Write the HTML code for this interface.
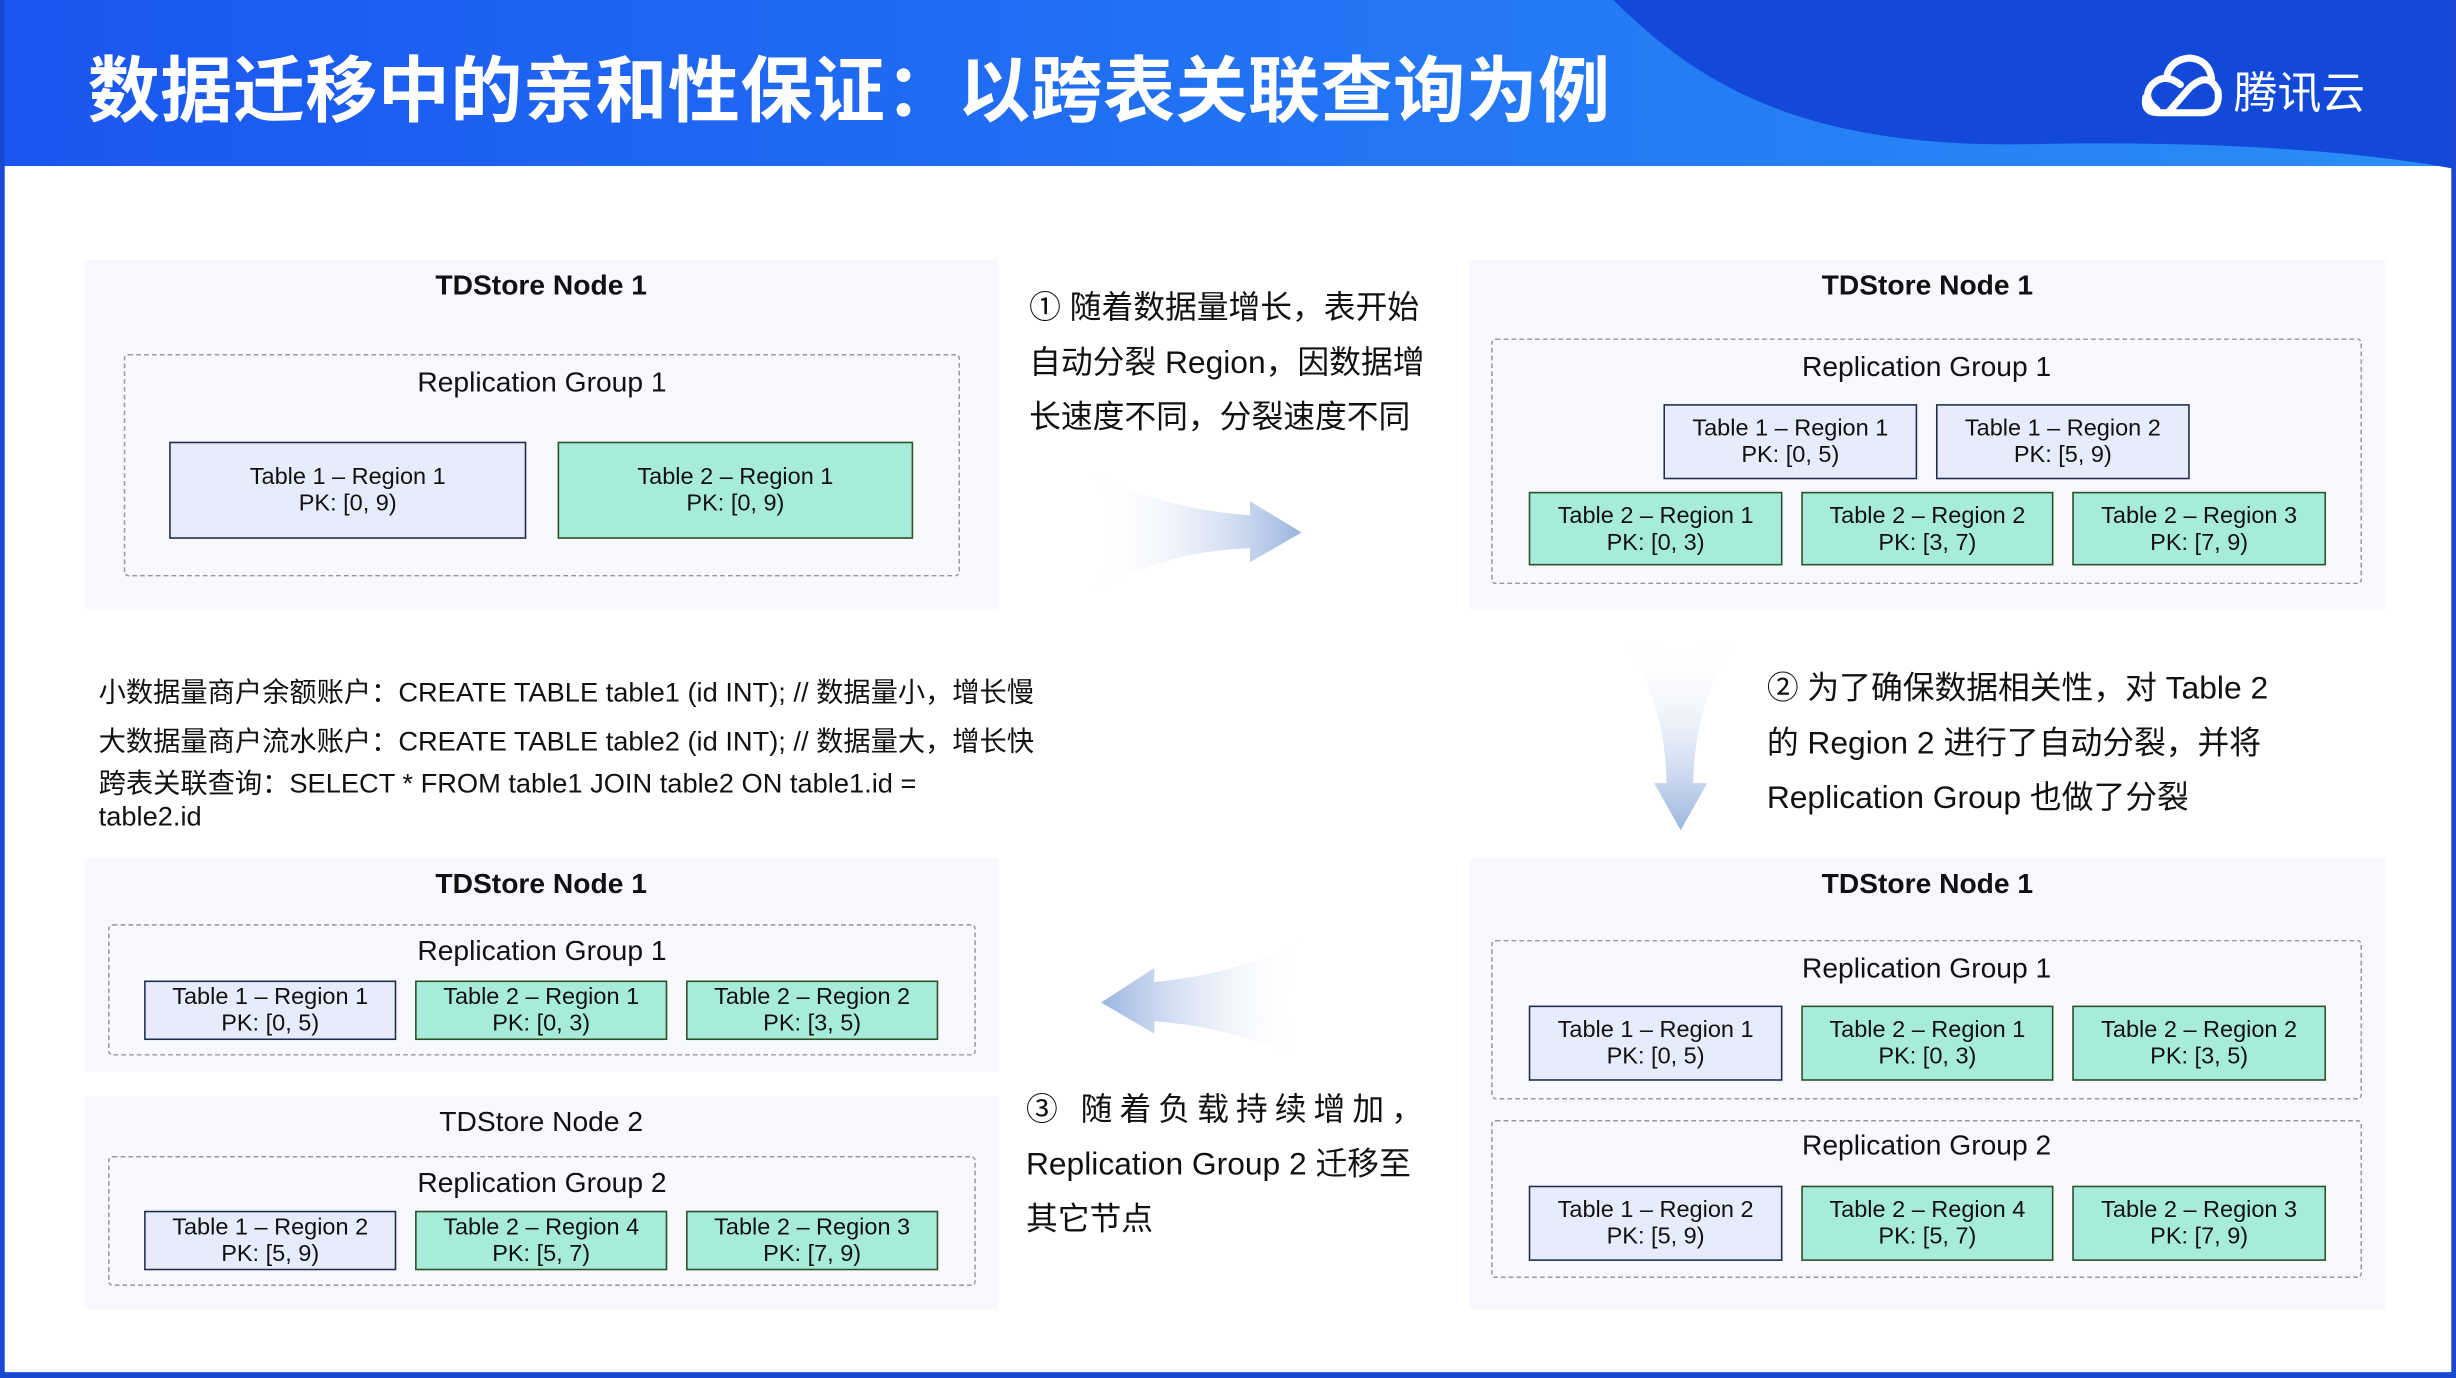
<!DOCTYPE html>
<html><head><meta charset="utf-8"><style>
html,body{margin:0;padding:0;background:#fff;overflow:hidden}
#w{width:2456px;height:1378px;position:relative;overflow:hidden}
#s{position:absolute;left:0;top:0;width:1568px;height:880px;transform:scale(1.56633);transform-origin:0 0;font-family:"Liberation Sans","Noto Sans CJK SC",sans-serif;color:#111}
.a{position:absolute}
.panel{position:absolute;background:#f7f9fe}
.ttl{position:absolute;left:0;right:0;text-align:center;font-size:18px;font-weight:bold}
.grp{position:absolute;border:1.6px dashed #999;box-sizing:border-box;border-radius:3px}
.gt{position:absolute;left:0;right:0;text-align:center;font-size:18px}
.b{position:absolute;box-sizing:border-box;border:1.6px solid #1f2d4d;background:#e7ecfc;font-size:15px;line-height:17px;text-align:center;display:flex;flex-direction:column;justify-content:center}
.g{background:#a7ecdb;border-color:#2f4f25}
.t{position:absolute;font-size:20.3px;line-height:35px}
.c{position:absolute;font-size:17.4px}
</style></head><body><div id="w"><div id="s">
<svg class="a" style="left:0;top:0" width="1568" height="880">
<defs>
<linearGradient id="hd" x1="0" y1="0" x2="1" y2="0"><stop offset="0" stop-color="#1a56f0"/><stop offset="1" stop-color="#2a8ef7"/></linearGradient>
<linearGradient id="ar" x1="0" y1="0" x2="1" y2="0"><stop offset="0" stop-color="#fff" stop-opacity="0"/><stop offset="1" stop-color="#9ab4df"/></linearGradient>
<linearGradient id="al" x1="1" y1="0" x2="0" y2="0"><stop offset="0" stop-color="#fff" stop-opacity="0"/><stop offset="1" stop-color="#9ab4df"/></linearGradient>
<linearGradient id="ad" x1="0" y1="0" x2="0" y2="1"><stop offset="0" stop-color="#fff" stop-opacity="0"/><stop offset="1" stop-color="#9ab4df"/></linearGradient>
</defs>
<rect x="0" y="0" width="1568" height="106" fill="url(#hd)"/>
<path d="M1030,0 C1090,60 1160,95 1300,92 C1400,90 1500,95 1568,108 L1568,0 Z" fill="#1249d8"/>
<rect x="0" y="0" width="3" height="880" fill="#1a48d0"/>
<rect x="1565" y="0" width="3" height="880" fill="#1a48d0"/>
<rect x="0" y="876" width="1568" height="4" fill="#1a48d0"/>
<path d="M696,300 Q740,325 798,329 L798,320 L831,340 L798,359 L798,350 Q740,352 696,380 Q720,340 696,300 Z" fill="url(#ar)"/>
<path d="M835,600 Q790,622 737,627 L737,618 L703,640 L737,660 L737,652 Q790,656 835,678 Q808,640 835,600 Z" fill="url(#al)"/>
<path d="M1035,408 Q1063,445 1064,500 L1056,500 L1073,530 L1090,500 L1081,500 Q1082,445 1110,408 Q1072,420 1035,408 Z" fill="url(#ad)"/>
<g fill="none" stroke="#fff" stroke-width="4.5" stroke-linecap="round">
<path d="M1377,70 Q1367,62 1374,54 Q1382,46 1392,54"/>
<path d="M1383,50 Q1385,38 1398,37 Q1410,38 1412,50"/>
<path d="M1384,72 L1398,56 Q1410,45 1416,58 Q1418,72 1405,72 L1378,72 Q1368,72 1370,62"/>
</g>
</svg>
<div class="a" style="left:56px;top:22px;font-size:46px;font-weight:bold;color:#fff;letter-spacing:0.3px">数据迁移中的亲和性保证：以跨表关联查询为例</div>
<div class="a" style="left:1426px;top:38px;font-size:28px;color:#fff">腾讯云</div>

<div class="panel" style="left:54px;top:166px;width:583px;height:223px">
<div class="ttl" style="top:6px">TDStore Node 1</div>
<div class="grp" style="left:25px;top:60px;width:534px;height:142px"><div class="gt" style="top:7px">Replication Group 1</div></div>
<div class="b" style="left:54px;top:116px;width:228px;height:62px">Table 1 – Region 1<br>PK: [0, 9)</div>
<div class="b g" style="left:302px;top:116px;width:227px;height:62px">Table 2 – Region 1<br>PK: [0, 9)</div>
</div>
<div class="t" style="left:657px;top:180px">① 随着数据量增长，表开始<br>自动分裂 Region，因数据增<br>长速度不同，分裂速度不同</div>

<div class="panel" style="left:938px;top:166px;width:585px;height:223px">
<div class="ttl" style="top:6px">TDStore Node 1</div>
<div class="grp" style="left:14px;top:50px;width:556px;height:157px"><div class="gt" style="top:7px">Replication Group 1</div></div>
<div class="b" style="left:124px;top:92px;width:162px;height:48px">Table 1 – Region 1<br>PK: [0, 5)</div>
<div class="b" style="left:298px;top:92px;width:162px;height:48px">Table 1 – Region 2<br>PK: [5, 9)</div>
<div class="b g" style="left:38px;top:148px;width:162px;height:47px">Table 2 – Region 1<br>PK: [0, 3)</div>
<div class="b g" style="left:212px;top:148px;width:161px;height:47px">Table 2 – Region 2<br>PK: [3, 7)</div>
<div class="b g" style="left:385px;top:148px;width:162px;height:47px">Table 2 – Region 3<br>PK: [7, 9)</div>
</div>

<div class="t" style="left:1128px;top:423px">② 为了确保数据相关性，对 Table 2<br>的 Region 2 进行了自动分裂，并将<br>Replication Group 也做了分裂</div>

<div class="c" style="left:63px;top:429px">小数据量商户余额账户：CREATE TABLE table1 (id INT); // 数据量小，增长慢</div>
<div class="c" style="left:63px;top:460px">大数据量商户流水账户：CREATE TABLE table2 (id INT); // 数据量大，增长快</div>
<div class="c" style="left:63px;top:490px;line-height:21px">跨表关联查询：SELECT * FROM table1 JOIN table2 ON table1.id =<br>table2.id</div>

<div class="panel" style="left:54px;top:548px;width:583px;height:136px">
<div class="ttl" style="top:6px">TDStore Node 1</div>
<div class="grp" style="left:15px;top:42px;width:554px;height:84px"><div class="gt" style="top:6px">Replication Group 1</div></div>
<div class="b" style="left:38px;top:78px;width:161px;height:38px">Table 1 – Region 1<br>PK: [0, 5)</div>
<div class="b g" style="left:211px;top:78px;width:161px;height:38px">Table 2 – Region 1<br>PK: [0, 3)</div>
<div class="b g" style="left:384px;top:78px;width:161px;height:38px">Table 2 – Region 2<br>PK: [3, 5)</div>
</div>
<div class="panel" style="left:54px;top:700px;width:583px;height:136px">
<div class="ttl" style="top:6px;font-weight:normal">TDStore Node 2</div>
<div class="grp" style="left:15px;top:38px;width:554px;height:83px"><div class="gt" style="top:6px">Replication Group 2</div></div>
<div class="b" style="left:38px;top:73px;width:161px;height:38px">Table 1 – Region 2<br>PK: [5, 9)</div>
<div class="b g" style="left:211px;top:73px;width:161px;height:38px">Table 2 – Region 4<br>PK: [5, 7)</div>
<div class="b g" style="left:384px;top:73px;width:161px;height:38px">Table 2 – Region 3<br>PK: [7, 9)</div>
</div>
<div class="t" style="left:655px;top:692px"><span style="letter-spacing:4.5px">③ 随着负载持续增加，</span><br>Replication Group 2 迁移至<br>其它节点</div>

<div class="panel" style="left:938px;top:548px;width:585px;height:288px">
<div class="ttl" style="top:6px">TDStore Node 1</div>
<div class="grp" style="left:14px;top:52px;width:556px;height:102px"><div class="gt" style="top:7px">Replication Group 1</div></div>
<div class="b" style="left:38px;top:94px;width:162px;height:48px">Table 1 – Region 1<br>PK: [0, 5)</div>
<div class="b g" style="left:212px;top:94px;width:161px;height:48px">Table 2 – Region 1<br>PK: [0, 3)</div>
<div class="b g" style="left:385px;top:94px;width:162px;height:48px">Table 2 – Region 2<br>PK: [3, 5)</div>
<div class="grp" style="left:14px;top:167px;width:556px;height:101px"><div class="gt" style="top:5px">Replication Group 2</div></div>
<div class="b" style="left:38px;top:209px;width:162px;height:48px">Table 1 – Region 2<br>PK: [5, 9)</div>
<div class="b g" style="left:212px;top:209px;width:161px;height:48px">Table 2 – Region 4<br>PK: [5, 7)</div>
<div class="b g" style="left:385px;top:209px;width:162px;height:48px">Table 2 – Region 3<br>PK: [7, 9)</div>
</div>
</div></div></body></html>
